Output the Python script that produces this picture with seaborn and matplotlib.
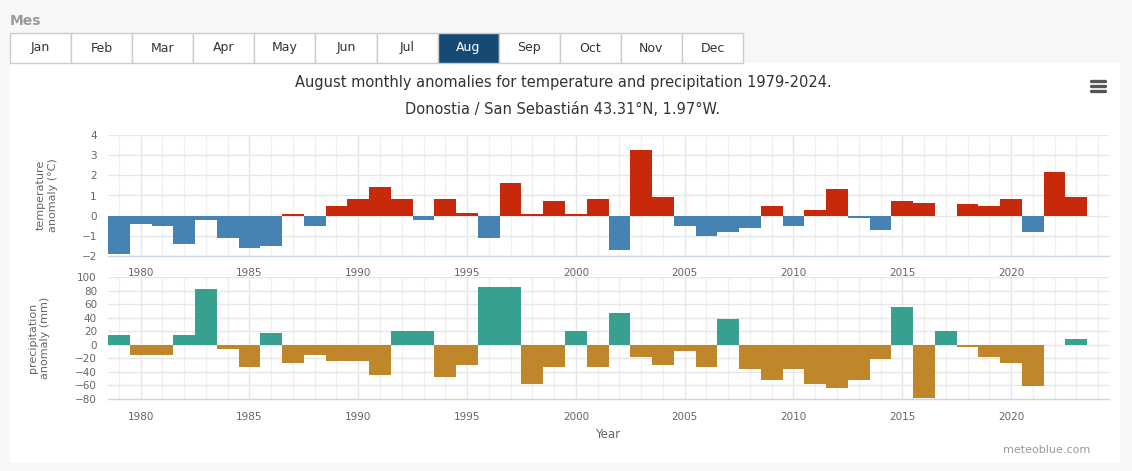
import matplotlib
matplotlib.use("Agg")
import numpy as np
import pandas as pd
import matplotlib.pyplot as plt
from matplotlib.patches import Rectangle
from matplotlib.lines import Line2D
import seaborn as sns

# ---- data ----
years = list(range(1979, 2024))
temp_anom = [-1.9, -0.4, -0.5, -1.4, -0.2, -1.1, -1.6, -1.5, 0.1, -0.5,
             0.5, 0.85, 1.4, 0.85, -0.2, 0.85, 0.15, -1.1, 1.6, 0.08,
             0.75, 0.07, 0.85, -1.7, 3.25, 0.95, -0.5, -1.0, -0.8, -0.6,
             0.47, -0.5, 0.27, 1.3, -0.1, -0.7, 0.75, 0.65, 0.0, 0.57,
             0.47, 0.85, -0.8, 2.18, 0.95]
precip_anom = [14, -15, -15, 14, 82, -6, -33, 17, -27, -15,
               -24, -24, -45, 20, 20, -48, -30, 85, 85, -58,
               -33, 20, -33, 47, -18, -30, -9, -33, 38, -36,
               -52, -36, -58, -64, -52, -21, 56, -79, 20, -3,
               -18, -27, -61, 0, 8]
months = ["Jan", "Feb", "Mar", "Apr", "May", "Jun",
          "Jul", "Aug", "Sep", "Oct", "Nov", "Dec"]
active_month = "Aug"

title1 = "August monthly anomalies for temperature and precipitation 1979-2024."
title2 = "Donostia / San Sebastián 43.31°N, 1.97°W."

df = pd.DataFrame({"year": years, "temp": temp_anom, "precip": precip_anom})
df["temp_pos"] = df["temp"] >= 0
df["precip_pos"] = df["precip"] >= 0

W, H = 1132, 471
def fx(x): return x / W
def fy(y): return 1 - y / H

sns.set_style("white")
plt.rcParams["font.family"] = ["DejaVu Sans"]

fig = plt.figure(figsize=(W / 100, H / 100), dpi=100)
fig.patch.set_facecolor("#f7f7f7")

# white chart panel
fig.add_artist(Rectangle((fx(10), fy(463)), fx(1120) - fx(10), fy(63) - fy(463),
                         transform=fig.transFigure, facecolor="white",
                         edgecolor="none", zorder=0))

# month selector
fig.text(fx(10), fy(21), "Mes", fontsize=10, fontweight="bold", color="#9a9a9a",
         va="center", ha="left")
bw = (743 - 10) / len(months)
for i, m in enumerate(months):
    x0 = 10 + i * bw
    on = m == active_month
    fig.add_artist(Rectangle((fx(x0), fy(63)), fx(bw), fy(33) - fy(63),
                             transform=fig.transFigure,
                             facecolor="#164a72" if on else "white",
                             edgecolor="#cccccc", linewidth=1, zorder=1))
    fig.text(fx(x0 + bw / 2), fy(48), m, fontsize=9, ha="center", va="center",
             color="white" if on else "#333333", zorder=2)

# titles
fig.text(fx(563), fy(83), title1, fontsize=10.5, ha="center", va="center", color="#333333")
fig.text(fx(563), fy(109), title2, fontsize=10.5, ha="center", va="center", color="#333333")

# hamburger icon
for yy in (81, 86, 91):
    fig.add_artist(Line2D([fx(1091), fx(1105)], [fy(yy), fy(yy)],
                          transform=fig.transFigure, color="#555555", linewidth=2.4,
                          solid_capstyle="round"))

ax_t = fig.add_axes([fx(108), fy(256), fx(1109) - fx(108), fy(135) - fy(256)])
ax_p = fig.add_axes([fx(108), fy(399), fx(1109) - fx(108), fy(277) - fy(399)])

sns.barplot(data=df, x="year", y="temp", hue="temp_pos",
            palette={True: "#c8290b", False: "#4682b4"}, saturation=1,
            native_scale=True, width=1, dodge=False, legend=False,
            errorbar=None, linewidth=0, ax=ax_t, zorder=3)
sns.barplot(data=df, x="year", y="precip", hue="precip_pos",
            palette={True: "#37a08f", False: "#c0862a"}, saturation=1,
            native_scale=True, width=1, dodge=False, legend=False,
            errorbar=None, linewidth=0, ax=ax_p, zorder=3)

for ax, lim, step in ((ax_t, (-2, 4), 1), (ax_p, (-80, 100), 20)):
    ax.set_xlim(1978.5, 2024.5)
    ax.set_ylim(*lim)
    ax.set_yticks(np.arange(lim[0], lim[1] + step, step))
    ax.set_xticks(range(1980, 2025, 5))
    ax.set_xticks(range(1979, 2025), minor=True)
    ax.grid(True, which="major", color="#e6e6e6", linewidth=1, zorder=0)
    ax.grid(True, which="minor", axis="x", color="#f0f0f0", linewidth=1, zorder=0)
    ax.set_axisbelow(True)
    for s in ("top", "left", "right"):
        ax.spines[s].set_visible(False)
    ax.spines["bottom"].set_color("#ccd6eb")
    ax.spines["bottom"].set_linewidth(1)
    ax.tick_params(axis="x", which="major", length=6, color="#ccd6eb",
                   labelsize=7.5, labelcolor="#666666", pad=3)
    ax.tick_params(axis="x", which="minor", length=0)
    ax.tick_params(axis="y", length=0, labelsize=7.5, labelcolor="#666666", pad=8)
    ax.set_xlabel("")
    ax.set_ylabel("")
    ax.set_facecolor("none")

fig.text(fx(47), fy(195), "temperature\nanomaly (°C)", rotation=90, fontsize=8,
         ha="center", va="center", color="#666666", multialignment="center")
fig.text(fx(39), fy(338), "precipitation\nanomaly (mm)", rotation=90, fontsize=8,
         ha="center", va="center", color="#666666", multialignment="center")
fig.text(fx(608), fy(434), "Year", fontsize=8.5, ha="center", va="center", color="#666666")
fig.text(fx(1090), fy(450), "meteoblue.com", fontsize=8, ha="right", va="center",
         color="#999999")

fig.savefig("out.png", dpi=100, facecolor=fig.get_facecolor())
